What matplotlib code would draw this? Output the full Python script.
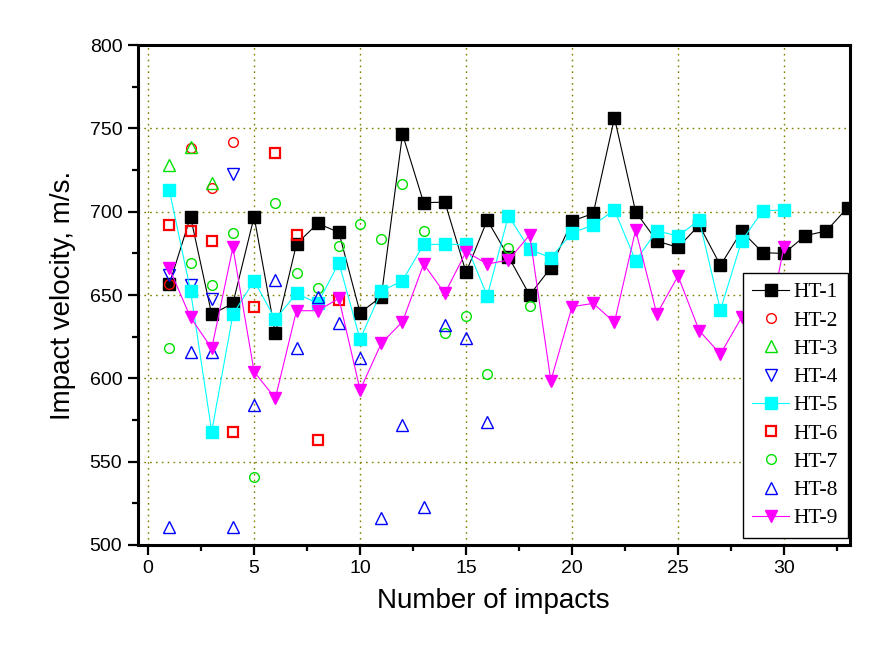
import numpy as np
import matplotlib.pyplot as plt

# impact velocities (m/s)
ht1 = [656.5, 697, 638.4, 645, 697, 627, 680.6, 693, 687.6, 639.4, 649, 746.6,
       705.4, 705.8, 663.6, 695, 673, 650, 666.4, 694.4, 699, 756.4, 700, 682.4,
       678.6, 692, 667.8, 688.4, 675.4, 675, 685.6, 688.5, 702.5]
ht2 = [656.5, 738, 714, 742]
ht3 = [728, 738.7, 717]
ht4 = [662, 656, 647.4, 722.5]
ht5 = [713, 652.6, 568, 638.4, 658.6, 635.4, 651, 645, 669.4, 623.4, 652.3,
       658.6, 680.4, 680.4, 680.4, 649.4, 697.6, 677.4, 672.4, 687.4, 692, 701,
       670.6, 688.6, 685.4, 695, 641, 682.4, 700.6, 701]
ht6 = [692, 688.6, 682.6, 568, 642.6, 735, 686, 563, 647]
ht7 = [618, 669, 656, 687.4, 541, 705.4, 663.4, 654, 679.6, 692.4, 683.4,
       716.4, 688.4, 627, 637.4, 602.4, 678, 643.4]
ht8 = [510.6, 616, 616, 510.6, 584, 659, 618, 649, 633, 612, 516, 572, 523,
       632, 624, 574]
ht9 = [666, 636.6, 618, 678.6, 604, 588, 640.6, 640.6, 648, 593, 621, 634,
       668.6, 651, 676, 668.6, 671, 686, 598.6, 643, 645, 633.6, 689, 638.6,
       661.4, 628.6, 614.6, 636.6, 616, 679]

series = [
    ("HT-1", ht1, dict(color="black", marker="s", ms=8.5, ls="-", lw=0.8, mfc="black", mec="black")),
    ("HT-2", ht2, dict(color="red", marker="o", ms=7, ls="none", mfc="none", mew=1.0)),
    ("HT-3", ht3, dict(color="#00e000", marker="^", ms=8, ls="none", mfc="none", mew=1.0)),
    ("HT-4", ht4, dict(color="blue", marker="v", ms=8, ls="none", mfc="none", mew=1.0)),
    ("HT-5", ht5, dict(color="cyan", marker="s", ms=8.5, ls="-", lw=0.8, mfc="cyan", mec="cyan")),
    ("HT-6", ht6, dict(color="red", marker="s", ms=7, ls="none", mfc="none", mew=1.6)),
    ("HT-7", ht7, dict(color="#00e000", marker="o", ms=7, ls="none", mfc="none", mew=1.0)),
    ("HT-8", ht8, dict(color="blue", marker="^", ms=8, ls="none", mfc="none", mew=1.0)),
    ("HT-9", ht9, dict(color="magenta", marker="v", ms=9, ls="-", lw=0.8, mfc="magenta", mec="magenta")),
]

plt.rcParams['font.family'] = ['Liberation Sans', 'DejaVu Sans']

fig = plt.figure(figsize=(8.76, 6.54), dpi=100)
ax = fig.add_axes([0.157, 0.1667, 0.813, 0.7643])

for name, vals, st in series:
    x = np.arange(1, len(vals) + 1)
    ax.plot(x, vals, label=name, **st)

ax.set_xlim(-0.5, 33.1)
ax.set_ylim(500, 800)
ax.set_xticks(np.arange(0, 31, 5))
ax.set_xticks(np.arange(0, 33.1, 2.5), minor=True)
ax.set_yticks(np.arange(500, 801, 50))
ax.set_yticks(np.arange(500, 801, 25), minor=True)
ax.grid(True, which="major", color="#808000", ls=(0, (1.2, 3)), lw=1.0)
ax.set_axisbelow(True)

for s in ax.spines.values():
    s.set_linewidth(2.2)
ax.tick_params(which="major", direction="out", length=7, width=1.6, labelsize=14, pad=4)
ax.tick_params(which="minor", direction="out", length=4, width=1.6)

ax.set_xlabel("Number of impacts", fontsize=20, labelpad=8)
ax.set_ylabel("Impact velocity, m/s.", fontsize=20, labelpad=10)

leg = ax.legend(loc="lower right", bbox_to_anchor=(0.997, 0.014), fancybox=False,
                edgecolor="black", framealpha=1, numpoints=1, handlelength=1.7,
                handletextpad=0.2, labelspacing=0.38, borderpad=0.45,
                borderaxespad=0, prop={"family": "Liberation Serif", "size": 15.5})
leg.get_frame().set_linewidth(1.0)

fig.savefig("out.png", dpi=100)
